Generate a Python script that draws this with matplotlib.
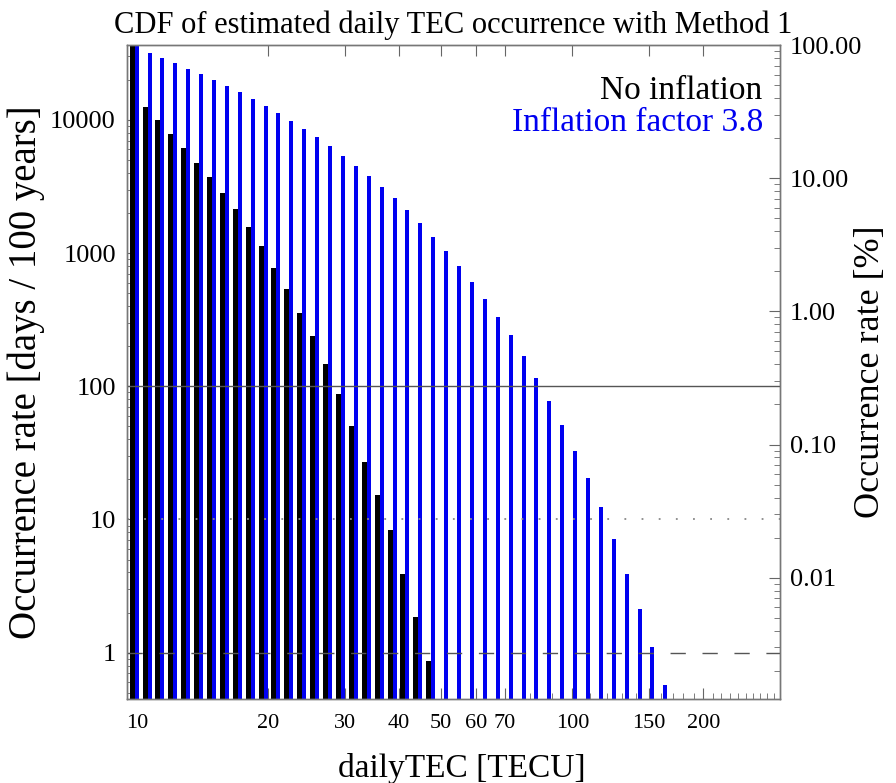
import numpy as np
import matplotlib
matplotlib.use("Agg")
import matplotlib.pyplot as plt
from matplotlib.ticker import FixedLocator, NullFormatter, FuncFormatter, LogLocator

plt.rcParams['font.family'] = ['Liberation Serif', 'DejaVu Serif']

# TEC bin values [TECU] (log spaced bins)
tec_bins = [9.87, 10.57, 11.32, 12.12, 12.97, 13.89, 14.87, 15.92, 17.04, 18.24,
            19.53, 20.91, 22.39, 23.97, 25.66, 27.47, 29.41, 31.49, 33.71, 36.09,
            38.64, 41.37, 44.29, 47.41, 50.76, 54.34, 58.18, 62.29, 66.69, 71.39,
            76.44, 81.83, 87.61, 93.79, 100.42, 107.51, 115.09, 123.22, 131.92, 141.23,
            151.20, 161.88]

# occurrence rate [days / 100 years], no inflation
no_infl = [36525, 12500, 9930, 7800, 6120, 4770, 3710, 2830, 2130, 1570,
           1125, 769, 540, 357, 240, 146, 87.5, 50.1, 26.7, 15.2,
           8.2, 3.81, 1.75, 0.76]

# occurrence rate [days / 100 years], inflation factor 3.8
infl = [36525, 31600, 28980, 26600, 24230, 21990, 19820, 17870, 16110, 14350,
        12710, 11210, 9820, 8500, 7400, 6330, 5360, 4510, 3790, 3150,
        2580, 2100, 1680, 1330, 1040, 804, 610, 455, 333, 241,
        169, 116, 78, 51.2, 32.7, 20.3, 12.3, 7.0, 3.83, 2.02,
        1.0, 0.47]

days_100y = 36525.0
ymin = 0.449
xmin, xmax = 9.48, 300.0

fig = plt.figure(figsize=(8.96, 7.83), dpi=100)
ax = fig.add_axes([0.1417, 0.1073, 0.7288, 0.8352])

# bars: black on the left side of each bin, blue on the right side
c_blk = np.array(tec_bins[:len(no_infl)])
c_blu = np.array(tec_bins[:len(infl)])
w_blk = 0.0115
w_blu = 0.0092
ax.bar(c_blk * 10 ** (-w_blk), no_infl, width=c_blk - c_blk * 10 ** (-w_blk),
       bottom=0.1, align='edge', color='black', linewidth=0, zorder=2)
ax.bar(c_blu, infl, width=c_blu * 10 ** w_blu - c_blu,
       bottom=0.1, align='edge', color='#0000f0', linewidth=0, zorder=2)

ax.set_xscale('log')
ax.set_yscale('log')
ax.set_xlim(xmin, xmax)
ax.set_ylim(ymin, days_100y)

# reference lines
ax.axhline(100, color='#555555', lw=1.0, zorder=3)
ax.axhline(10, color='#888888', lw=1.3, ls=(0, (1, 8.5)), zorder=3)
ax.axhline(1, color='#555555', lw=1.0, ls=(0, (11, 12)), zorder=3)

# x ticks
xlab = [10, 20, 30, 40, 50, 60, 70, 100, 150, 200]
xminor = [v for v in list(range(10, 100, 10)) + list(range(100, 310, 10)) if v not in xlab]
ax.xaxis.set_major_locator(FixedLocator(xlab))
ax.xaxis.set_minor_locator(FixedLocator(xminor))
ax.xaxis.set_major_formatter(FuncFormatter(lambda v, p: '%d' % v))
ax.xaxis.set_minor_formatter(NullFormatter())
ax.tick_params(axis='x', which='major', direction='in', length=8, top=True,
               labelsize=16, pad=11, color='#666666')
ax.tick_params(axis='x', which='minor', direction='in', length=4, top=False,
               color='#666666')

# y ticks (left)
ax.yaxis.set_major_locator(FixedLocator([1, 10, 100, 1000, 10000]))
ax.yaxis.set_major_formatter(FuncFormatter(lambda v, p: '%d' % v))
ax.yaxis.set_minor_locator(LogLocator(base=10, subs=np.arange(2, 10)))
ax.yaxis.set_minor_formatter(NullFormatter())
ax.tick_params(axis='y', which='major', direction='in', length=8, right=False,
               labelsize=19, pad=8, color='#666666')
ax.tick_params(axis='y', which='minor', direction='in', length=4, right=False,
               color='#666666')

# right axis in percent
ax2 = ax.twinx()
ax2.set_yscale('log')
ax2.set_ylim(ymin / days_100y * 100, 100)
ax2.yaxis.set_major_locator(FixedLocator([0.01, 0.1, 1, 10, 100]))
ax2.yaxis.set_major_formatter(FuncFormatter(lambda v, p: '%.2f' % v))
ax2.yaxis.set_minor_locator(LogLocator(base=10, subs=np.arange(2, 10)))
ax2.yaxis.set_minor_formatter(NullFormatter())
ax2.tick_params(axis='y', which='major', direction='in', length=8, labelsize=19,
                pad=7, color='#666666')
ax2.tick_params(axis='y', which='minor', direction='in', length=4, color='#666666')

for a in (ax, ax2):
    for s in a.spines.values():
        s.set_color('#777777')
        s.set_linewidth(1.0)

ax.set_xlabel('dailyTEC [TECU]', fontsize=24)
ax.xaxis.set_label_coords(0.513, -0.082)
ax.set_ylabel('Occurrence rate [days / 100 years]', fontsize=28)
ax.yaxis.set_label_coords(-0.125, 0.5)
ax2.set_ylabel('Occurrence rate [%]', fontsize=26)
ax2.yaxis.set_label_coords(1.114, 0.5)
ax.set_title('CDF of estimated daily TEC occurrence with Method 1', fontsize=22, pad=9)

ax.text(0.725, 0.930, 'No inflation', transform=ax.transAxes, fontsize=24,
        color='black', ha='left', va='center', zorder=5)
ax.text(0.590, 0.881, 'Inflation factor 3.8', transform=ax.transAxes, fontsize=24,
        color='#0000f0', ha='left', va='center', zorder=5)

fig.savefig('out.png', dpi=100)
